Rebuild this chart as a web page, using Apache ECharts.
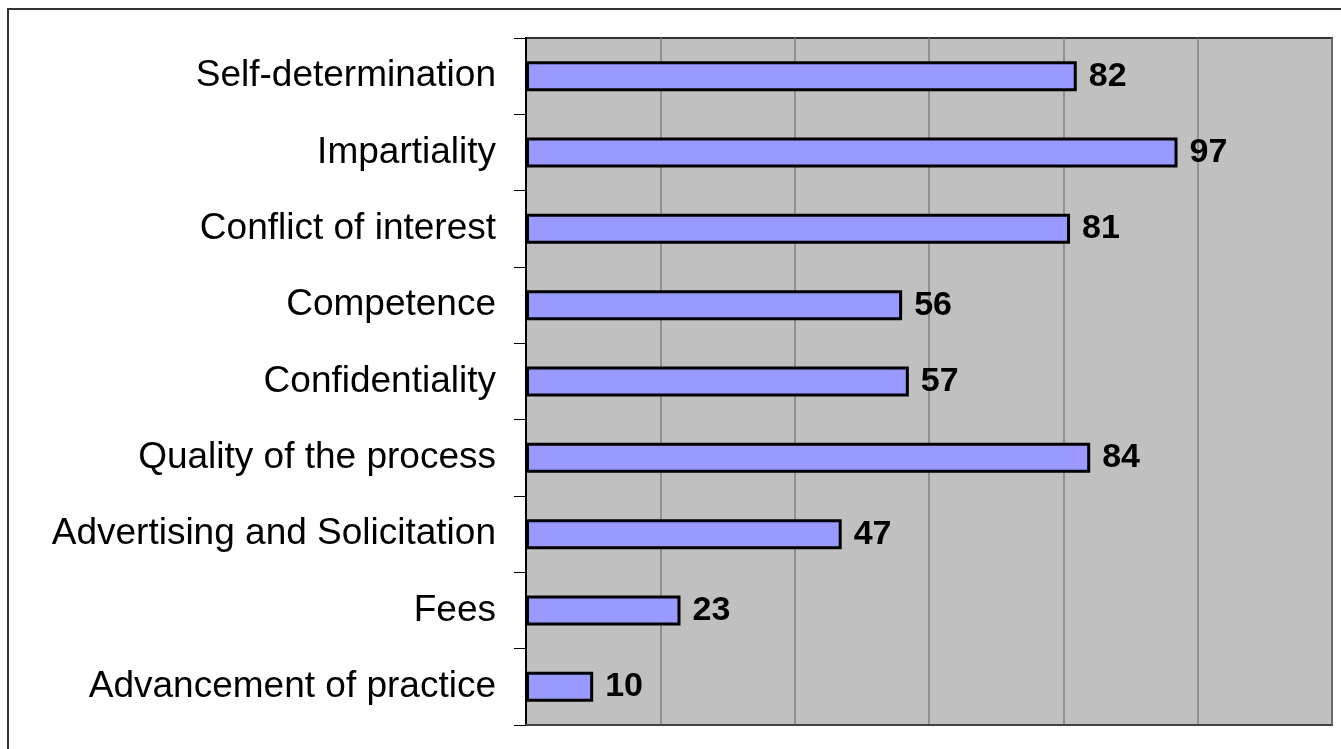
<!DOCTYPE html>
<html>
<head>
    <meta charset="utf-8">
    <title>Standards ratings</title>
    <script src="https://cdn.jsdelivr.net/npm/echarts@6/dist/echarts.min.js"></script>
    <style>
        html, body { margin: 0; padding: 0; background: #fff; }
        #chart { width: 1341px; height: 749px; }
    </style>
</head>
<body>
    <div id="chart"></div>
    <script>
        // categories, top to bottom
        const categories = [
            'Self-determination',
            'Impartiality',
            'Conflict of interest',
            'Competence',
            'Confidentiality',
            'Quality of the process',
            'Advertising and Solicitation',
            'Fees',
            'Advancement of practice'
        ];
        const values = [82, 97, 81, 56, 57, 84, 47, 23, 10];

        const chart = echarts.init(document.getElementById('chart'));
        chart.setOption({
            animation: false,
            textStyle: { fontFamily: 'Liberation Sans, Arial, sans-serif' },
            graphic: [{
                // outer chart frame, runs off the right and bottom edges
                type: 'rect',
                shape: { x: 8, y: 9, width: 1400, height: 800 },
                style: { fill: 'none', stroke: '#333', lineWidth: 2 },
                silent: true
            }],
            grid: {
                left: 526, top: 38, right: 9, bottom: 24,
                show: true,
                backgroundColor: '#c0c0c0',
                borderColor: '#333',
                borderWidth: 2
            },
            xAxis: {
                type: 'value',
                min: 0,
                max: 120,
                interval: 20,
                axisLabel: { show: false },
                axisTick: { show: false },
                axisLine: { show: true, lineStyle: { color: '#444', width: 2 } },
                splitLine: { lineStyle: { color: '#808080', width: 1.5 } }
            },
            yAxis: {
                type: 'category',
                inverse: true,
                data: categories,
                axisLine: { show: true, lineStyle: { color: '#000', width: 2 } },
                axisTick: { show: true, length: 12, lineStyle: { color: '#000', width: 1 } },
                axisLabel: { color: '#000', fontSize: 37, margin: 30 }
            },
            series: [{
                type: 'bar',
                data: values,
                barWidth: 30,
                itemStyle: { color: '#9999ff', borderColor: '#000', borderWidth: 3 },
                label: {
                    show: true,
                    position: 'right',
                    distance: 12,
                    color: '#000',
                    fontSize: 34,
                    fontWeight: 'bold'
                }
            }]
        });
    </script>
</body>
</html>
